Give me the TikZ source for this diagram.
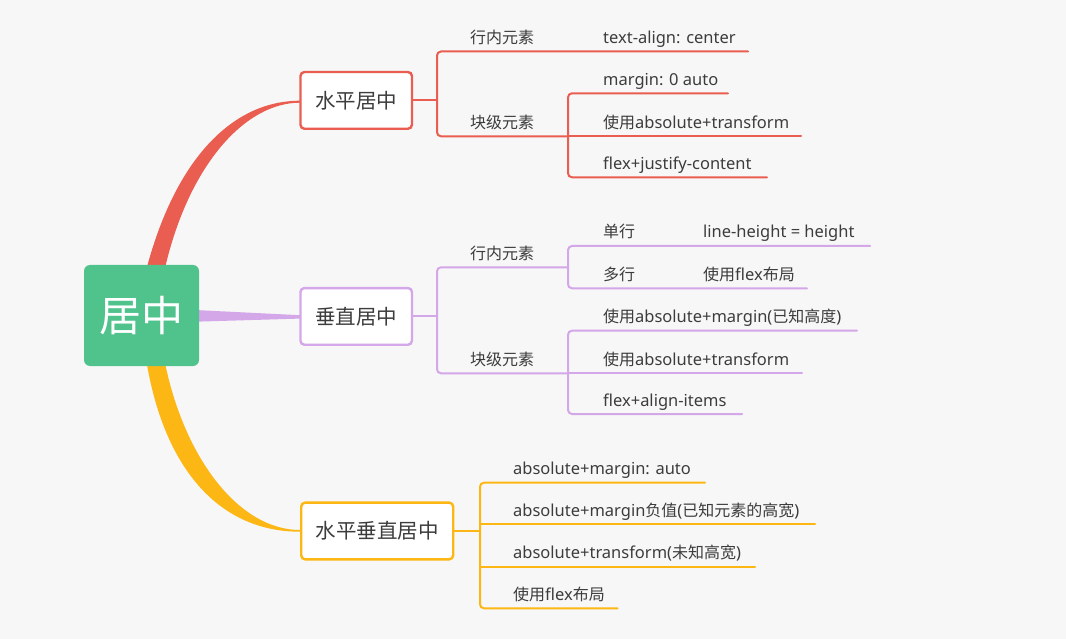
\documentclass[tikz,border=0pt]{standalone}
\usepackage{fontspec}
\setmainfont{Noto Sans}[Scale=1.03]
\newfontfamily\cjk{Noto Sans CJK SC}
\definecolor{bg}{HTML}{F7F7F7}
\definecolor{cred}{HTML}{E95E50}
\definecolor{cpur}{HTML}{D3A7E8}
\definecolor{cyel}{HTML}{FCB714}
\definecolor{cgreen}{HTML}{50C38C}
\definecolor{txt}{HTML}{3C3C3C}
\tikzset{
  conn/.style={line width=2pt, line cap=round, line join=round, rounded corners=4pt},
  leaf/.style={anchor=base west, inner sep=0pt, font=\fontsize{16}{19}\selectfont, text=txt},
  topic/.style={draw=#1, line width=2.4pt, fill=white, rounded corners=4pt, minimum height=56.7pt, inner sep=0pt, font=\fontsize{20.5}{24}\selectfont\cjk, text=txt},
}
\begin{document}
\begin{tikzpicture}[x=1pt,y=-1pt]
\fill[bg] (0,0) rectangle (1066,639);
\useasboundingbox (0,0) rectangle (1066,639);

% main branches (tapered)
\fill[cred] (146.7,268) .. controls (177,155) and (235,100.7) .. (300,100.7)
  -- (300,102.7) .. controls (245,102.7) and (189,165) .. (165,268) -- cycle;
\fill[cyel] (146.7,363) .. controls (165,470) and (220,531.7) .. (300,531.7)
  -- (300,530) .. controls (240,530) and (185,460) .. (165,363) -- cycle;
\fill[cpur] (195,310) -- (300,315.2) -- (300,318.6) -- (195,321.7) -- cycle;

% root and topics
\node[fill=cgreen, rounded corners=6pt, minimum width=115pt, minimum height=101pt, inner sep=0pt,
  text=white, font=\fontsize{42}{50}\selectfont\cjk] (root) at (141.5,315.5) {\raisebox{-3pt}{居中}};
\node[topic=cred, minimum width=111.5pt] (t1) at (356.2,100.4) {水平居中};
\node[topic=cpur, minimum width=111.5pt] (t2) at (356.2,316.4) {垂直居中};
\node[topic=cyel, minimum width=152pt] (t3) at (377.2,531) {水平垂直居中};

% ---- branch 1 (red)
\coordinate (r-j) at (437,100.4);
\coordinate (r-top) at (437,51.5);
\coordinate (r-bot) at (437,136.3);
\coordinate (r-s) at (568,136.3);
\coordinate (r-stop) at (568,93.3);
\coordinate (r-sbot) at (568,177.3);
\draw[conn,cred] (t1.east) -- (r-j);
\draw[conn,cred] (748,51.5) -- (r-top) -- (r-bot) -- (r-s);
\draw[conn,cred] (728,93.3) -- (r-stop) -- (r-sbot) -- (767,177.3);
\draw[conn,cred] (r-s) -- (801,136.3);
\node[leaf] (r-in) at (470,43.5) {\cjk 行内元素};
\node[leaf] (r-ta) at (603,43.5) {text-align: center};
\node[leaf] (r-blk) at (470,128.3) {\cjk 块级元素};
\node[leaf] (r-m0) at (603,85.3) {margin: 0 auto};
\node[leaf] (r-at) at (603,128.3) {{\cjk 使用}absolute+transform};
\node[leaf] (r-fj) at (603,169.3) {flex+justify-content};

% ---- branch 2 (purple)
\coordinate (p-j) at (437,316.4);
\coordinate (p-top) at (437,267.3);
\coordinate (p-bot) at (437,373.3);
\coordinate (p-s1) at (568,267.3);
\coordinate (p-s2) at (568,373.3);
\draw[conn,cpur] (t2.east) -- (p-j);
\draw[conn,cpur] (p-s1) -- (p-top) -- (p-bot) -- (p-s2);
\draw[conn,cpur] (870,246) -- (568,246) -- (568,288.3) -- (807,288.3);
\draw[conn,cpur] (857,330.7) -- (568,330.7) -- (568,414) -- (742,414);
\draw[conn,cpur] (p-s2) -- (802,373.3);
\node[leaf] (p-in) at (470,259.3) {\cjk 行内元素};
\node[leaf] (p-blk) at (470,365.3) {\cjk 块级元素};
\node[leaf] (p-single) at (603,238) {\cjk 单行};
\node[leaf] (p-lh) at (703,238) {line-height = height};
\node[leaf] (p-multi) at (603,280.3) {\cjk 多行};
\node[leaf] (p-flex) at (703,280.3) {{\cjk 使用}flex{\cjk 布局}};
\node[leaf] (p-am) at (603,322.7) {{\cjk 使用}absolute+margin({\cjk 已知高度})};
\node[leaf] (p-at) at (603,365.3) {{\cjk 使用}absolute+transform};
\node[leaf] (p-fa) at (603,406) {flex+align-items};

% ---- branch 3 (yellow)
\coordinate (y-j) at (480,531);
\coordinate (y-top) at (480,482.7);
\coordinate (y-bot) at (480,608.3);
\coordinate (y-2) at (480,524.3);
\coordinate (y-3) at (480,566.7);
\draw[conn,cyel] (t3.east) -- (y-j);
\draw[conn,cyel] (705,482.7) -- (y-top) -- (y-bot) -- (617.5,608.3);
\draw[conn,cyel] (y-2) -- (815,524.3);
\draw[conn,cyel] (y-3) -- (755,566.7);
\node[leaf] (y-a) at (513,474.7) {absolute+margin: auto};
\node[leaf] (y-b) at (513,516.3) {absolute+margin{\cjk 负值}({\cjk 已知元素的高宽})};
\node[leaf] (y-c) at (513,558.7) {absolute+transform({\cjk 未知高宽})};
\node[leaf] (y-d) at (513,600.3) {{\cjk 使用}flex{\cjk 布局}};
\end{tikzpicture}
\end{document}
